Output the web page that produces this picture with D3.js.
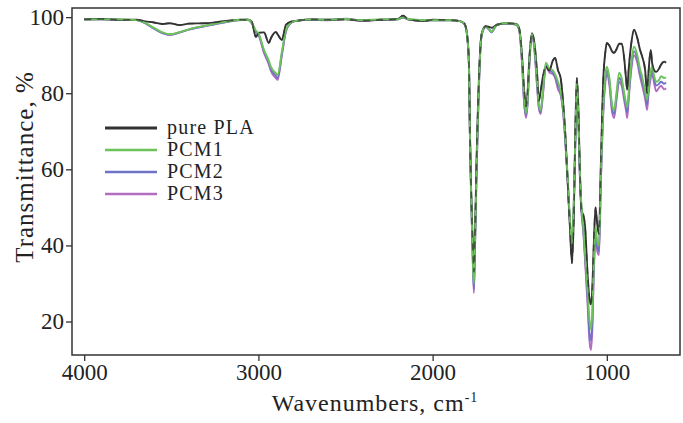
<!DOCTYPE html>
<html>
<head>
<meta charset="utf-8">
<script src="https://cdn.jsdelivr.net/npm/d3@7"></script>
<style>
  body { margin: 0; background: #fff; }
  svg text { font-family: "Liberation Serif", "DejaVu Serif", serif; fill: #222; }
</style>
</head>
<body>
<svg id="chart"></svg>
<script>
// FTIR spectra, wavenumber grid shared by all four series
var wavenumbers = [4000,3900,3800,3700,3650,3600,3550,3510,3450,3400,3300,3200,3100,3060,3038,3015,2997,2968,2940,2928,2900,2890,2865,2842,2813,2785,2700,2600,2500,2400,2300,2200,2170,2140,2050,2000,1900,1850,1820,1810,1800,1791,1786,1778,1768,1763,1757,1748,1740,1734,1724,1715,1695,1675,1660,1645,1630,1580,1520,1504,1487,1475,1464,1455,1445,1430,1415,1400,1390,1380,1368,1350,1330,1310,1297,1280,1265,1250,1238,1225,1212,1200,1190,1180,1172,1164,1155,1145,1135,1125,1110,1100,1092,1084,1075,1065,1055,1045,1035,1020,1008,1000,985,970,958,945,929,915,900,890,883,875,860,844,825,810,797,780,769,760,748,740,728,717,700,689,671,660];

var pla  = [99.4,99.5,99.3,99.3,98.9,98.6,98.2,98.4,97.9,98.3,98.4,98.9,99.3,99.3,98.8,94.8,95.9,96.0,93.2,94.5,96.1,95.5,94.0,98.0,98.8,99.0,99.4,99.3,99.4,99.1,99.3,99.5,100.4,99.4,99.0,99.3,99.2,99.0,98.4,97.5,94.5,87,70,53,38,33,42,62,76,84,93.5,96.2,97.6,97.4,97.2,97.6,98.0,98.4,98.2,97.2,90,81,76.5,80,89,95.8,93,85,78,80.5,84,87,86,88.6,89.3,86,84,77,69,57,45,35.3,47,72,84,77,60,49,48,45,32,26,24.5,28,40,50,45.5,43,60,84,91,93.2,92.5,91,90.6,91.5,93,93,89,84,80.9,86,93,96.7,94.5,91.5,89.6,86,80,86,91.4,88,86,85.6,86.5,87.5,88.3,88];
var pcm1 = [99.4,99.4,99.4,99.2,98.5,97.2,96.0,95.5,96.1,96.8,97.8,98.7,99.3,99.3,98.5,96.5,95.5,91.4,88.5,86.9,85.3,84.8,91.0,96.5,98.6,99.0,99.4,99.3,99.5,99.2,99.4,99.4,100.0,99.5,99.2,99.2,99.2,99.0,98.4,97.5,94.3,87,69.6,52,34.5,30,40,60,74,82.6,93.2,96,97.5,96.8,96.1,97.2,98.0,98.4,98.1,97.0,89,79,74.8,78,88,95.6,92,83,77,75.5,80,88,86.5,86,85,83,80.5,75.5,68,58,47,40.6,51,70,82.5,75,60,50,45,38,28,20.5,18,22,35,45,41,40,57,77,85,87,84,77,75.6,80,85.4,84,80,77.5,76.4,80,88,92.2,90,86.5,84.3,80.5,78.3,82,86,87,84.5,83,83.5,84.5,84,84.2];
var pcm2 = [99.4,99.4,99.3,99.2,98.4,97.0,95.8,95.4,96.0,96.7,97.7,98.6,99.2,99.3,98.4,96.3,95.2,91.0,88.0,86.3,84.6,84.0,90.5,96.3,98.5,99.0,99.3,99.3,99.6,99.1,99.3,99.4,99.9,99.4,99.1,99.2,99.2,99.0,98.4,97.4,94.2,86.8,69.4,51.5,34,28.5,39,59,73,82,93,95.9,97.4,96.7,96.0,97.1,98.0,98.3,98.0,96.9,88.5,78,74.2,77.5,87.5,95.4,91.5,82,76.5,75,79.5,87.5,86,85.5,84.5,82,80,75,67.5,57.5,46.5,40,50,69,81.5,74.5,59,49,44,37,26,17,15,19,33.5,43,39.5,38.5,56,76,84,86,83,76,74.5,79,84,83,79,76.5,75,79,87,91,89,85.5,83,79.5,77,81,85,86,83.5,82,82.5,83,82.5,82.8];
var pcm3 = [99.4,99.4,99.3,99.2,98.4,97.0,95.8,95.3,96.0,96.7,97.7,98.6,99.2,99.3,98.4,96.2,95.0,90.6,87.5,85.8,84.0,83.5,90.0,96.2,98.5,99.0,99.3,99.2,99.5,99.0,99.3,99.4,99.9,99.4,99.1,99.2,99.2,99.0,98.4,97.4,94.2,86.8,69.2,51,33.5,27.5,38.5,58.5,72.5,81.8,93,95.9,97.4,96.7,96.0,97.1,98.0,98.3,98.0,96.8,88,77.5,73.5,77,87,95.3,91,81.5,76,74.5,79,87,85.5,85,84,81,79.5,74.5,67,57,46,39.5,49.5,68.5,81,74,58.5,48.5,43.5,36,24,15,12.5,17,32.5,42,38.5,37.5,55,75,83,85,82,75,73.5,78,83,82,78,75.5,73.5,78,86,90,88,84.5,82,78.5,75.6,80,84,85,82.5,80.5,81.5,82,81,81.3];

var seriesNames  = ["pure PLA", "PCM1", "PCM2", "PCM3"];
var seriesColors = ["#333333", "#6cc35a", "#6f73c6", "#b26cc0"];
var xTicks = [4000, 3000, 2000, 1000];
var yTicks = [20, 40, 60, 80, 100];

var width = 683, height = 423;
var margin = {left: 72, right: 3, top: 8, bottom: 68};

var svg = d3.select("#chart").attr("width", width).attr("height", height);

var x = d3.scaleLinear().domain([4070, 580]).range([margin.left, width - margin.right]);
var y = d3.scaleLinear().domain([11.2, 102.4]).range([height - margin.bottom, margin.top]);

var allSeries = [pla, pcm1, pcm2, pcm3];

var line = d3.line()
    .x(function(d) { return x(d[0]); })
    .y(function(d) { return y(d[1]); })
    .curve(d3.curveMonotoneX);

svg.append("clipPath").attr("id", "clip")
    .append("rect")
    .attr("x", margin.left).attr("y", margin.top)
    .attr("width", width - margin.left - margin.right)
    .attr("height", height - margin.top - margin.bottom);

function points(i) {
    return wavenumbers.map(function(w, k) { return [w, allSeries[i][k]]; });
}

// draw order so that green sits on top where the curves coincide
var order = [3, 2, 0, 1];
var g = svg.append("g").attr("clip-path", "url(#clip)");
order.forEach(function(i) {
    g.append("path")
        .datum(points(i))
        .attr("fill", "none")
        .attr("stroke", seriesColors[i])
        .attr("stroke-width", 1.9)
        .attr("stroke-linejoin", "round")
        .attr("d", line);
});
// pure PLA shows through as dashes where the spectra overlap
g.append("path")
    .datum(points(0))
    .attr("fill", "none")
    .attr("stroke", seriesColors[0])
    .attr("stroke-opacity", 0.75)
    .attr("stroke-width", 1.6)
    .attr("stroke-dasharray", "7,6")
    .attr("d", line);

// frame
svg.append("rect")
    .attr("x", margin.left).attr("y", margin.top)
    .attr("width", width - margin.left - margin.right)
    .attr("height", height - margin.top - margin.bottom)
    .attr("fill", "none").attr("stroke", "#333").attr("stroke-width", 1.5);

var xAxis = svg.append("g")
    .attr("transform", "translate(0," + (height - margin.bottom) + ")")
    .call(d3.axisBottom(x).tickValues(xTicks).tickSize(6).tickPadding(3).tickFormat(d3.format("d")));
var yAxis = svg.append("g")
    .attr("transform", "translate(" + margin.left + ",0)")
    .call(d3.axisLeft(y).tickValues(yTicks).tickSize(6).tickPadding(2).tickFormat(d3.format("d")));

[xAxis, yAxis].forEach(function(a) {
    a.select(".domain").remove();
    a.selectAll(".tick line").attr("stroke", "#333").attr("stroke-width", 1.3);
    a.selectAll(".tick text").attr("font-size", 23).attr("font-family", "Liberation Serif").attr("fill", "#222");
});

// axis titles
var xt = svg.append("text")
    .attr("x", 375).attr("y", 411)
    .attr("text-anchor", "middle")
    .attr("font-size", 24)
    .attr("letter-spacing", 1);
xt.append("tspan").text("Wavenumbers, cm");
xt.append("tspan").attr("font-size", 14).attr("dy", -9).text("-1");

svg.append("text")
    .attr("transform", "translate(33,167) rotate(-90)")
    .attr("text-anchor", "middle")
    .attr("font-size", 25)
    .attr("letter-spacing", 1)
    .text("Transmittance, %");

// legend
var legend = svg.append("g");
seriesNames.forEach(function(name, i) {
    var ly = 128 + i * 22;
    legend.append("line")
        .attr("x1", 105).attr("x2", 157)
        .attr("y1", ly).attr("y2", ly)
        .attr("stroke", seriesColors[i])
        .attr("stroke-width", i === 0 ? 3.2 : 2.4);
    legend.append("text")
        .attr("x", 167).attr("y", ly + 6)
        .attr("font-size", 20)
        .attr("letter-spacing", 1.2)
        .text(name);
});
</script>
</body>
</html>
